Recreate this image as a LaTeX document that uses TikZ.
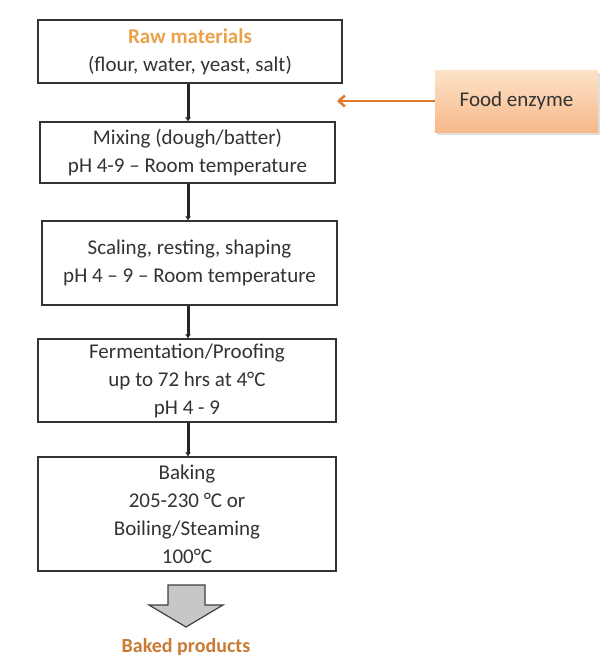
\documentclass[tikz,border=0pt]{standalone}
\usepackage{fontspec}
\setmainfont{Carlito}
\usetikzlibrary{arrows.meta,shadows}
\definecolor{txt}{HTML}{333333}
\definecolor{rawor}{HTML}{E9A24A}
\definecolor{bakedor}{HTML}{C97A33}
\definecolor{enzTop}{HTML}{FDE3C8}
\definecolor{enzBot}{HTML}{F6B98A}
\definecolor{enzArrow}{HTML}{E07A2A}
\tikzset{
  stepbox/.style={draw=txt, line width=1.1pt, fill=white, text=txt, align=center,
    font=\fontsize{21}{28}\selectfont, inner sep=0pt},
  flow/.style={draw=black!85, line width=3pt, -{Latex[length=4pt,width=6pt]}},
  blockarrow/.style={draw=black!75, line width=1.2pt, fill=black!22, line join=miter},
}
\begin{document}
\begin{tikzpicture}[x=1pt,y=-1pt]
\useasboundingbox[fill=white] (0,0) rectangle (613,659);
\node[stepbox, minimum width=304pt, minimum height=63pt] (raw) at (190,51.5)
  {{\bfseries\color{rawor}Raw materials}\\(flour, water, yeast, salt)};
\node[stepbox, minimum width=295pt, minimum height=61pt] (mix) at (187.5,152.5)
  {Mixing (dough/batter)\\pH 4-9 -- Room temperature};
\node[stepbox, minimum width=295pt, minimum height=84pt] (scale) at (189.5,263)
  {Scaling, resting, shaping\\pH 4 -- 9 -- Room temperature};
\node[stepbox, minimum width=298pt, minimum height=83pt] (ferm) at (187,380.5)
  {Fermentation/Proofing\\up to 72 hrs at 4°C\\pH 4 - 9};
\node[stepbox, minimum width=298pt, minimum height=114pt] (bake) at (187,514)
  {Baking\\205-230 °C or\\Boiling/Steaming\\100°C};
\node[draw=none, fill=enzBot, top color=enzTop, bottom color=enzBot,
  minimum width=163pt, minimum height=62pt, text=txt,
  font=\fontsize{21}{28}\selectfont,
  drop shadow={shadow xshift=2pt, shadow yshift=-3pt, opacity=0.25}] (enz) at (516.5,101) {Food enzyme};
\coordinate (enzend) at (337,101);
\draw[flow] (raw.south -| 188,0) -- (mix.north -| 188,0);
\draw[flow] (mix.south -| 188,0) -- (scale.north -| 188,0);
\draw[flow] (scale.south -| 188,0) -- (ferm.north -| 188,0);
\draw[flow] (ferm.south -| 188,0) -- (bake.north -| 188,0);
\draw[enzArrow, line width=2.5pt, -{Straight Barb[length=6pt,width=11pt]}] (enz.west) -- (enzend);
\draw[blockarrow] (168,585) -- (205,585) -- (205,605) -- (223,605) -- (186,627)
  -- (149,605) -- (168,605) -- cycle;
\node[font=\fontsize{20}{24}\selectfont\bfseries, text=bakedor] (baked) at (186,647) {Baked products};
\end{tikzpicture}
\end{document}
